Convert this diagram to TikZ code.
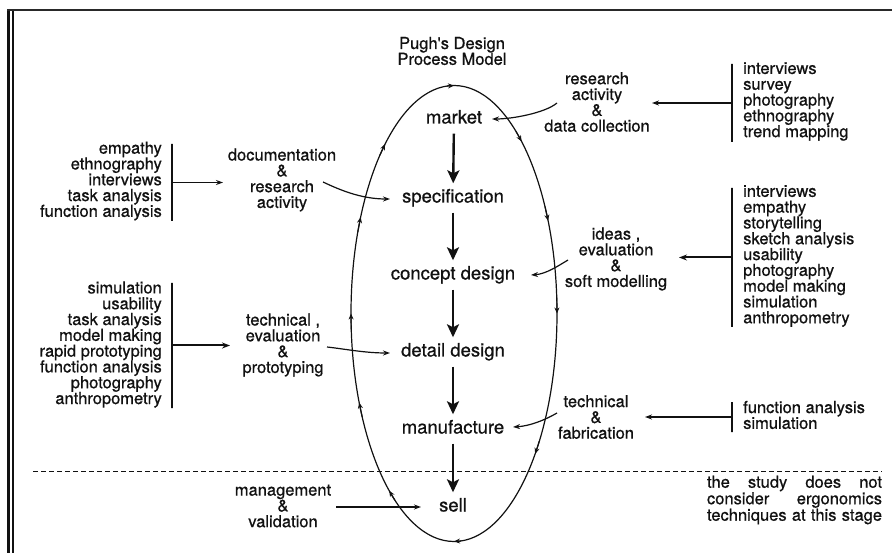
\documentclass[tikz,border=0pt]{standalone}
\usepackage{fontspec}
\setmainfont[FakeBold=0.7]{TeX Gyre Heros}
\usetikzlibrary{arrows.meta}
\definecolor{ink}{HTML}{111111}
\begin{document}
\begin{tikzpicture}[x=1pt,y=-1pt, every node/.style={text=ink},
  txt/.style={font=\fontsize{16.5}{15.8}\selectfont, align=center, inner sep=0pt},
  lstr/.style={font=\fontsize{16.5}{15.8}\selectfont, align=right, inner sep=0pt, anchor=east},
  lstl/.style={font=\fontsize{16.5}{15.8}\selectfont, align=left, inner sep=0pt, anchor=west},
  stage/.style={font=\fontsize{18.5}{20}\selectfont, inner sep=0pt, text height=13pt, text depth=4pt, minimum height=29pt},
  stagearrow/.style={draw=ink, line width=2.4pt, -{Stealth[length=13pt,width=12pt,inset=3pt]}},
  smallarr/.style={draw=ink, line width=1.2pt, -{Stealth[length=7pt,width=5pt]}},
  boldarr/.style={draw=ink, line width=2pt, -{Stealth[length=8pt,width=6pt]}},
  bar/.style={draw=ink, line width=1.2pt, inner sep=0pt, minimum width=0pt},
  cyc/.style={draw=ink, line width=1.2pt},
  cycmark/.style={draw=ink, line width=1.1pt, -{Stealth[length=6pt,width=5pt]}}
]
\useasboundingbox (0,0) rectangle (892,553);
% frame
\draw[ink, line width=3pt] (8.5,9) -- (8.5,553);
\draw[ink, line width=1.3pt] (13,11) -- (13,553);
\draw[ink!90, line width=2pt] (7,10.5) -- (892,10.5);
% dashed separator
\draw[ink, line width=1.3pt, dash pattern=on 5pt off 3pt] (33,471.5) -- (882,471.5);

% cycle ellipse
\draw[cyc] (454,313.5) ellipse [x radius=103, y radius=228];
\foreach \t in {-90,-49,-24,0,38,90,129,157,180,205,228}
  \draw[cycmark] ({454+103*cos(\t-4)},{313.5+228*sin(\t-4)}) -- ({454+103*cos(\t)},{313.5+228*sin(\t)});

% title
\node[txt] (title) at (452,51) {Pugh\textquotesingle s Design\\Process Model};

% stages
\node[stage] (market) at (454,119) {market};
\node[stage] (spec) at (453,198) {specification};
\node[stage] (concept) at (453,275) {concept design};
\node[stage] (detail) at (453,352) {detail design};
\node[stage] (manuf) at (453,429) {manufacture};
\node[stage] (sell) at (453,507) {sell};
\draw[stagearrow] (market) -- (spec);
\draw[stagearrow] (spec) -- (concept);
\draw[stagearrow] (concept) -- (detail);
\draw[stagearrow] (detail) -- (manuf);
\draw[stagearrow] (manuf) -- (sell);

% middle labels
\node[txt] (research) at (597,102) {research\\activity\\\&\\data collection};
\node[txt] (doc) at (282,180) {documentation\\\&\\research\\activity};
\node[txt] (ideas) at (616,259) {ideas ,\\evaluation\\\&\\soft modelling};
\node[txt] (techeval) at (283,345) {technical ,\\evaluation\\\&\\prototyping};
\node[txt] (techfab) at (596,417) {technical\\\&\\fabrication};
\node[txt] (mgmt) at (283,506) {management\\\&\\validation};

% technique lists
\node[lstl] (r1) at (743,101.5) {interviews\\survey\\photography\\ethnography\\trend mapping};
\node[lstl] (r2) at (743,256) {interviews\\empathy\\storytelling\\sketch analysis\\usability\\photography\\model making\\simulation\\anthropometry};
\node[lstl] (r3) at (743,415) {function analysis\\simulation};
\node[lstr] (l1) at (162,181) {empathy\\ethnography\\interviews\\task analysis\\function analysis};
\node[lstr] (l2) at (162,344.5) {simulation\\usability\\task analysis\\model making\\rapid prototyping\\function analysis\\photography\\anthropometry};

% bars
\node[bar, minimum height=78pt] (br1) at (732,103) {};
\node[bar, minimum height=139pt] (br2) at (732,257.5) {};
\node[bar, minimum height=30pt] (br3) at (732,417) {};
\node[bar, minimum height=77pt] (bl1) at (172,182.5) {};
\node[bar, minimum height=125pt] (bl2) at (172,345.5) {};

% arrows from lists to labels
\draw[smallarr] (br1.center) -- (652,103);
\draw[boldarr] (br2.center) -- (679,257.5);
\draw[smallarr] (br3.center) -- (645,417);
\draw[smallarr] (bl1.center) -- (223,182.5);
\draw[boldarr] (bl2.center) -- (230,345.5);

% arrows from labels to stages
\coordinate (c1) at (557,103);
\coordinate (c2) at (323,182);
\coordinate (c3) at (568,260);
\coordinate (c4) at (327,347);
\coordinate (c5) at (557,413);
\coordinate (c6) at (336,507);
\draw[smallarr] (c1) .. controls (545,113) and (512,119) .. (492,119);
\draw[smallarr] (c2) .. controls (338,189) and (360,199) .. (390,199);
\draw[smallarr] (c3) .. controls (558,266) and (546,274) .. (531,275);
\draw[smallarr] (c4) .. controls (345,349) and (365,353) .. (390,353);
\draw[smallarr] (c5) .. controls (545,420) and (530,426) .. (513,427);
\draw[smallarr] (c6) -- (421,507);

% note
\node[font=\fontsize{16.5}{16.5}\selectfont, align=left, inner sep=0pt] (note) at (794.5,500)
  {\makebox[175pt][s]{the study does not}\\\makebox[175pt][s]{consider ergonomics}\\\makebox[175pt][s]{techniques at this stage}};
\end{tikzpicture}
\end{document}
